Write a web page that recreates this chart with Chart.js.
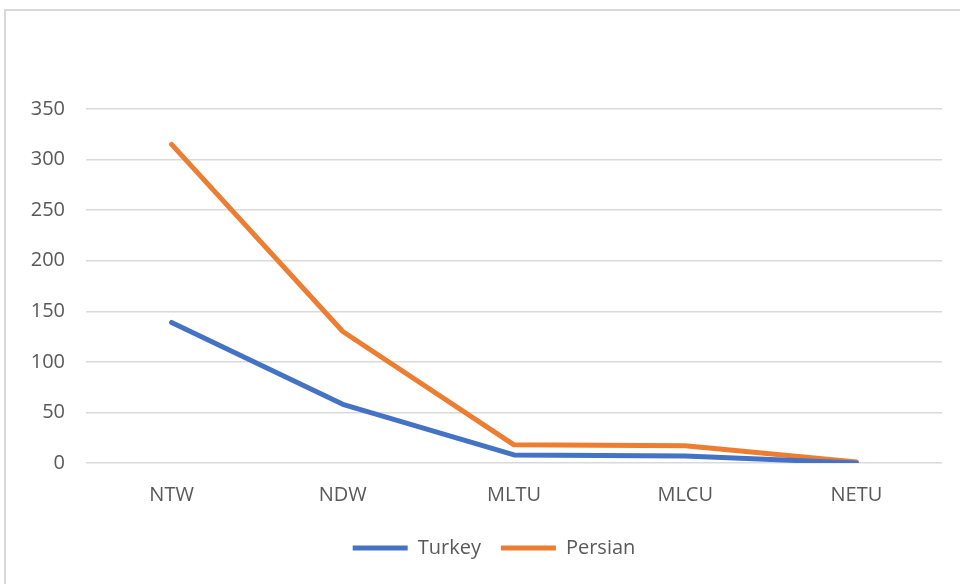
<!DOCTYPE html>
<html><head><meta charset="utf-8">
<script src="https://cdn.jsdelivr.net/npm/chart.js@4/dist/chart.umd.min.js"></script>
<style>html,body{margin:0;padding:0;background:#fff;overflow:hidden}#wrap{position:absolute;left:0;top:0;width:960px;height:584px}</style>
</head><body><div id="wrap"><canvas id="c" width="960" height="584"></canvas></div>
<script>
const categories = ["NTW", "NDW", "MLTU", "MLCU", "NETU"];
const turkey = [139, 58, 8, 7, 0];
const persian = [315, 130, 18, 17, 1];
const yTicks = [0, 50, 100, 150, 200, 250, 300, 350];

const frame = {
  id: 'frame',
  beforeDraw(chart) {
    const ctx = chart.ctx;
    ctx.save();
    ctx.strokeStyle = '#d9d9d9';
    ctx.lineWidth = 2;
    ctx.strokeRect(5, 10, 1000, 1000);
    ctx.restore();
  }
};

const shiftLegend = {
  id: 'shiftLegend',
  afterLayout(chart) {
    const lg = chart.legend;
    if (lg) {
      lg.left = 46;
      if (typeof lg.adjustHitBoxes === 'function') lg.adjustHitBoxes();
    }
  }
};

const FONT = "'Open Sans', sans-serif";

new Chart(document.getElementById('c'), {
  type: 'line',
  data: {
    labels: categories,
    datasets: [
      { label: 'Turkey', data: turkey, borderColor: '#4472C4', backgroundColor: '#4472C4', borderWidth: 5, pointRadius: 0, tension: 0, borderCapStyle: 'round', borderJoinStyle: 'round' },
      { label: 'Persian', data: persian, borderColor: '#ED7D31', backgroundColor: '#ED7D31', borderWidth: 5, pointRadius: 0, tension: 0, borderCapStyle: 'round', borderJoinStyle: 'round' }
    ]
  },
  options: {
    responsive: false,
    animation: false,
    devicePixelRatio: 1,
    layout: { padding: { left: 0, right: 18, top: 109, bottom: 16 } },
    plugins: {
      legend: {
        position: 'bottom',
        labels: {
          color: '#595959',
          font: { family: FONT, size: 20 },
          boxWidth: 55,
          boxHeight: 5,
          padding: 20,
          generateLabels(chart) {
            return chart.data.datasets.map((d, i) => ({ text: d.label, fillStyle: d.borderColor, strokeStyle: d.borderColor, lineWidth: 0, datasetIndex: i, fontColor: '#595959' }));
          }
        }
      },
      tooltip: { enabled: false }
    },
    scales: {
      x: {
        offset: true,
        afterFit(s) { s.height = 55; },
        grid: { display: false, drawTicks: false },
        border: { display: false },
        ticks: { color: '#595959', font: { family: FONT, size: 20 }, padding: 20 }
      },
      y: {
        min: 0, max: 350,
        afterFit(s) { s.width = 86; },
        afterBuildTicks(s) { s.ticks = yTicks.map(v => ({ value: v })); },
        grid: { color: '#d9d9d9', lineWidth: 1.5, drawTicks: false },
        border: { display: false },
        ticks: { color: '#595959', font: { family: FONT, size: 20 }, padding: 21 }
      }
    }
  },
  plugins: [frame, shiftLegend]
});
</script></body></html>
